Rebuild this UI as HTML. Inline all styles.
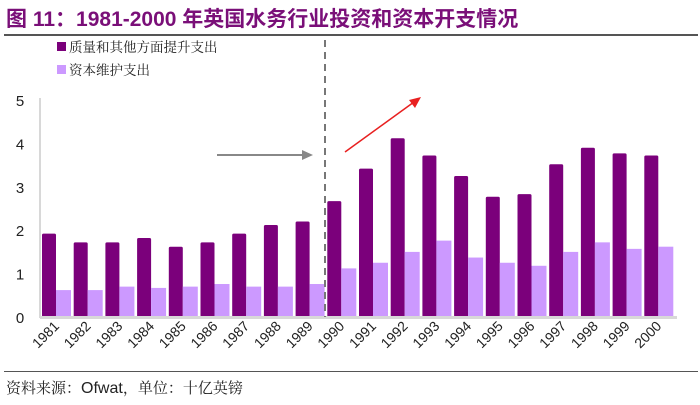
<!DOCTYPE html>
<html><head><meta charset="utf-8">
<style>
body{margin:0;background:#fff;}
#wrap{position:relative;width:700px;height:405px;overflow:hidden;font-family:"Liberation Sans","Noto Sans CJK SC",sans-serif;}
.title{position:absolute;left:6px;top:3px;font-size:21px;font-weight:bold;color:#7a0f78;white-space:nowrap;}
.rule{position:absolute;left:4px;width:694px;height:2px;background:#555;}
.src{position:absolute;left:6px;top:377px;font-size:15px;color:#222;font-family:"Liberation Sans","Noto Serif CJK SC",serif;}
</style></head><body>
<div id="wrap">
<div class="title">图 11：1981-2000 年英国水务行业投资和资本开支情况</div>
<div class="rule" style="top:34px"></div>
<svg id="c" width="700" height="405" style="position:absolute;left:0;top:0"></svg>
<div class="rule" style="top:371px;height:1px"></div>
<div class="src">资料来源：<span style="font-family:'Liberation Sans',sans-serif;font-size:16px">Ofwat</span>，单位：十亿英镑</div>
</div>
<script>
const years=["1981","1982","1983","1984","1985","1986","1987","1988","1989","1990","1991","1992","1993","1994","1995","1996","1997","1998","1999","2000"];
const upgrade=[1.92,1.72,1.72,1.82,1.62,1.72,1.92,2.12,2.2,2.67,3.42,4.12,3.72,3.25,2.77,2.83,3.52,3.9,3.77,3.72];
const maintenance=[0.62,0.62,0.7,0.67,0.7,0.76,0.7,0.7,0.76,1.12,1.25,1.5,1.76,1.37,1.25,1.18,1.5,1.72,1.57,1.62];
const yTicks=[0,1,2,3,4,5];
const ns="http://www.w3.org/2000/svg";
const svg=document.getElementById('c');
const y0=317,unit=43.4,x0=42,step=31.7,bw=14;
const Y=v=>y0-v*unit, X=i=>x0+i*step;
function el(t,a){const e=document.createElementNS(ns,t);for(const k in a)e.setAttribute(k,a[k]);svg.appendChild(e);return e;}
// y axis
let ax=el('line',{x1:40,y1:98,x2:40,y2:318,stroke:'#d8d8d8','stroke-width':2});


yTicks.forEach(v=>{
 const t=el('text',{x:20,y:Y(v)+6,'font-size':15,'text-anchor':'middle',fill:'#222','font-family':'Liberation Sans'});
 t.textContent=v;
 
 
});
years.forEach((yr,i)=>{
 const a=el('rect',{x:X(i),y:Y(upgrade[i]),width:bw,height:upgrade[i]*unit,fill:'#7b007b',rx:1.5});
 
 
 const b=el('rect',{x:X(i)+bw,y:Y(maintenance[i]),width:bw+1,height:maintenance[i]*unit,fill:'#cc99ff'});
 
 
 const cx=X(i)+bw+4, cy=327;
 const t=el('text',{x:cx,y:cy,'font-size':14,'text-anchor':'end',fill:'#222','font-family':'Liberation Sans',transform:`rotate(-45 ${cx} ${cy})`});
 t.textContent=yr;
 
 
});
let xa=el('line',{x1:40,y1:317.5,x2:677,y2:317.5,stroke:'#d8d8d8','stroke-width':3});


let dl=el('line',{x1:325,y1:40,x2:325,y2:317,stroke:'#777','stroke-width':2,'stroke-dasharray':'7,5'});


let g=el('line',{x1:217,y1:155,x2:304,y2:155,stroke:'#888','stroke-width':2});


el('polygon',{points:'313,155 302,150 302,160',fill:'#888'});
let r=el('line',{x1:345,y1:152,x2:414,y2:102,stroke:'#e82020','stroke-width':1.5});


el('polygon',{points:'421,97 409,100 415,108',fill:'#e82020'});
// legend
[['#7b007b','质量和其他方面提升支出',50],['#cc99ff','资本维护支出',73]].forEach(([c,l,yy])=>{
 const s=el('rect',{x:57,y:yy-8,width:9,height:9,fill:c});
 
 
 const t=el('text',{x:69,y:yy+2,'font-size':13.5,fill:'#222','font-family':'Noto Serif CJK SC, serif'});
 t.textContent=l;
 
 
});
</script>
</body></html>
